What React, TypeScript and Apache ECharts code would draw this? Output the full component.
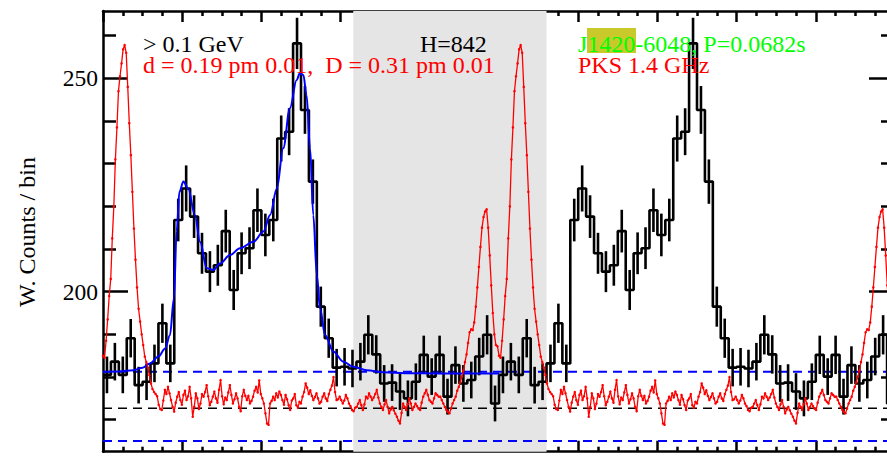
import React, { useEffect, useRef } from 'react';
import * as echarts from 'echarts';

// ---------- data ----------
const binWidth = 0.02; // phase width of a gamma-ray bin (50 bins / rotation)
const histCounts = [
  180.5, 183.6, 180.5, 189.1, 178.1, 178.9, 183.2, 192.6, 183.2, 216.8,
  224.2, 217.6, 209.0, 204.7, 206.2, 214.2, 200.4, 209.0, 210.2, 219.1,
  213.3, 216.8, 235.9, 237.5, 258.2, 242.6, 225.8, 196.5, 189.1, 182.2,
  182.4, 182.0, 183.6, 189.9, 185.3, 178.5, 178.7, 176.6, 175.0, 178.9,
  185.2, 180.1, 185.2, 175.4, 182.8, 178.5, 179.3, 184.8, 189.9, 173.8,
];
const histErrors = [
  4.3, 4.4, 4.3, 4.5, 4.3, 4.3, 4.4, 4.6, 4.4, 5.0,
  5.4, 5.0, 4.8, 4.8, 4.8, 5.0, 4.7, 4.9, 4.9, 5.1,
  5.0, 5.0, 5.4, 5.5, 6.0, 5.6, 5.2, 4.7, 4.6, 4.4,
  4.4, 4.4, 4.4, 4.6, 4.5, 4.3, 4.3, 4.3, 4.2, 4.3,
  4.5, 4.3, 4.5, 4.2, 4.4, 4.3, 4.3, 4.4, 4.6, 4.2,
];

// blue two-peak fit, phase 0..1
const fitPhase = [
  0, 0.04, 0.077, 0.1, 0.119, 0.14, 0.157, 0.169, 0.179, 0.186,
  0.193, 0.203, 0.215, 0.232, 0.245, 0.262, 0.279, 0.295, 0.321, 0.346,
  0.38, 0.405, 0.422, 0.439, 0.455, 0.472, 0.489, 0.497, 0.506, 0.514,
  0.523, 0.531, 0.54, 0.548, 0.561, 0.582, 0.607, 0.632, 0.666, 0.708,
  0.763, 0.85, 1.0,
];
const fitValue = [
  181.2, 181.3, 181.6, 182.2, 183.2, 184.8, 186.7, 189.8, 198.4, 214.1,
  223.4, 225.8, 224.2, 218.0, 211.7, 205.5, 205.1, 206.6, 208.6, 210.2,
  211.7, 214.1, 218.0, 224.2, 233.6, 243.0, 249.6, 251.2, 250.8, 246.1,
  233.6, 218.0, 203.9, 196.1, 189.8, 185.9, 183.6, 182.4, 181.6, 181.1,
  180.9, 180.85, 180.85,
];

// radio profile (PKS 1.4 GHz), 256 bins per rotation, scaled to the count axis
const radioProfile = [
  185.0, 184.5, 188.5, 193.5, 199.0, 203.0, 212.5, 220.0, 231.0, 238.5,
  247.0, 250.5, 253.5, 256.8, 257.8, 256.0, 248.0, 239.5, 232.0, 223.4,
  214.8, 207.5, 201.0, 196.0, 193.0, 190.0, 187.5, 184.8, 183.5, 182.2,
  180.5, 178.5, 177.2, 176.5, 176.0, 175.5, 173.5, 172.5, 172.3, 174.5,
  177.0, 176.0, 177.7, 176.2, 174.6, 173.0, 171.9, 174.0, 175.4, 176.5,
  174.6, 173.5, 175.8, 176.8, 174.6, 175.5, 177.7, 175.0, 170.7, 173.0,
  176.2, 175.0, 172.5, 173.8, 176.0, 175.4, 176.5, 178.1, 175.5, 173.4,
  174.2, 175.4, 176.6, 175.0, 174.0, 177.0, 179.3, 175.5, 173.6, 175.2,
  174.6, 176.4, 178.1, 175.8, 173.8, 174.8, 176.2, 175.0, 173.0, 172.0,
  175.5, 177.0, 175.6, 174.6, 175.6, 173.8, 174.4, 175.4, 176.8, 177.7,
  176.4, 179.2, 176.0, 175.0, 173.8, 171.5, 169.1, 168.8, 173.8, 174.4,
  175.4, 174.6, 176.2, 175.2, 176.6, 175.8, 174.6, 173.5, 175.8, 174.8,
  173.4, 172.3, 174.5, 175.0, 176.0, 173.4, 172.8, 174.2, 173.8, 175.4,
  176.5, 178.5, 177.5, 176.0, 176.9, 175.6, 174.6, 175.3, 176.2, 175.0,
  173.8, 174.2, 175.4, 176.2, 175.0, 174.4, 176.0, 177.0, 178.0, 180.0,
  176.5, 174.6, 174.8, 175.4, 174.6, 173.8, 174.5, 175.8, 175.0, 173.8,
  173.2, 172.3, 172.0, 172.8, 173.0, 173.8, 174.6, 173.4, 172.3, 173.6,
  175.4, 175.0, 176.2, 175.4, 174.6, 175.2, 176.0, 177.0, 175.2, 173.8,
  173.0, 172.3, 173.6, 174.6, 173.0, 171.5, 172.4, 173.0, 172.2, 171.4,
  170.7, 169.8, 169.1, 171.6, 173.8, 173.0, 172.3, 173.6, 175.0, 173.8,
  172.3, 173.0, 173.8, 173.2, 172.6, 172.3, 174.0, 175.4, 176.2, 177.0,
  175.8, 174.6, 174.2, 173.8, 175.0, 176.2, 175.8, 175.4, 175.4, 174.6,
  173.8, 173.0, 172.3, 171.8, 171.5, 172.6, 173.8, 174.6, 175.4, 176.8,
  177.7, 178.8, 180.1, 181.5, 183.5, 185.3, 188.0, 190.5, 191.2, 191.0,
  192.8, 196.5, 201.0, 205.8, 210.5, 215.0, 217.5, 218.8, 219.3, 215.0,
  208.5, 201.5, 195.0, 190.0, 187.5, 187.2,
];

const shadedPhase = [0.632, 1.12];
const upperLevel = 181.25; // blue dashed
const backgroundLevel = 172.7; // black dashed
const lowerLevel = 165.0; // blue dashed

const yTickLabels = [200, 250];

const textEnergy = '> 0.1 GeV';
const textWidths = 'd = 0.19 pm 0.01,  D = 0.31 pm 0.01';
const textH = 'H=842';
const textPulsar = 'J1420-6048, P=0.0682s';
const textRadio = 'PKS 1.4 GHz';
const yTitle = 'W. Counts / bin';

// ---------- layout ----------
const FAMILY = 'Liberation Serif';
const GRID_LEFT = 103;
const GRID_WIDTH = 792;
const FRAME_TOP = 11;
const FRAME_BOTTOM = 451.7;
const Y200 = 291.7;
const PX = 4.2667;
const yMinA = 200 - (FRAME_BOTTOM - Y200) / PX;
const yMaxA = 200 + (Y200 - FRAME_TOP) / PX;

export default function App() {
  const ref = useRef<HTMLDivElement>(null);
  useEffect(() => {
    if (!ref.current) return;
    const chart = echarts.init(ref.current, undefined, { renderer: 'svg' });

    const nb = histCounts.length;
    const hist: number[][] = [];
    const errs: number[][] = [];
    for (let p = 0; p < 2; p++) {
      for (let k = 0; k < nb; k++) {
        const x0 = p + k * binWidth;
        hist.push([x0, histCounts[k]]);
        errs.push([x0 + binWidth / 2, histCounts[k], histErrors[k]]);
      }
    }
    hist.push([2, histCounts[nb - 1]]);

    const nr = radioProfile.length;
    const radio: number[][] = [];
    for (let p = 0; p < 2; p++) {
      for (let i = 0; i < nr; i++) radio.push([p + i / nr, radioProfile[i]]);
    }
    radio.push([2, radioProfile[0]]);

    const fit = fitPhase.map((x, i) => [x, fitValue[i]]);

    const hline = (v: number, color: string, width: number, name: string) => ({
      name,
      type: 'line',
      xAxisIndex: 0,
      yAxisIndex: 0,
      data: [[0, v], [2, v]],
      showSymbol: false,
      lineStyle: { color, width, type: [9, 6] },
      z: 3,
      silent: true,
    });

    const txt = (text: string, x: number, y: number, fill: string) => ({
      type: 'text', x, y, z: 10,
      style: {
        text, fill, fontFamily: FAMILY, fontSize: 24, lineHeight: 19,
        textAlign: 'left', textVerticalAlign: 'middle',
      },
    });

    const option: any = {
      animation: false,
      backgroundColor: '#ffffff',
      textStyle: { fontFamily: FAMILY },
      grid: [
        { left: GRID_LEFT, top: FRAME_TOP, width: GRID_WIDTH, height: FRAME_BOTTOM - FRAME_TOP, containLabel: false, outerBoundsMode: 'none' },
        { left: GRID_LEFT, top: Y200 - 100 * PX, width: GRID_WIDTH, height: 150 * PX, containLabel: false, outerBoundsMode: 'none' },
      ],
      xAxis: [
        {
          gridIndex: 0, type: 'value', min: 0, max: 2, interval: 0.2, position: 'bottom',
          axisLine: { show: true, lineStyle: { color: '#000', width: 2.5 } },
          axisTick: { show: true, inside: true, length: 11, lineStyle: { color: '#000', width: 2.5 } },
          minorTick: { show: true, splitNumber: 4, length: 5, lineStyle: { color: '#000', width: 2.5 } },
          axisLabel: { show: false }, splitLine: { show: false },
        },
        {
          gridIndex: 0, type: 'value', min: 0, max: 2, interval: 0.2, position: 'top',
          axisLine: { show: true, onZero: false, lineStyle: { color: '#000', width: 2.5 } },
          axisTick: { show: true, inside: true, length: 11, lineStyle: { color: '#000', width: 2.5 } },
          minorTick: { show: true, splitNumber: 4, length: 5, lineStyle: { color: '#000', width: 2.5 } },
          axisLabel: { show: false }, splitLine: { show: false },
        },
        { gridIndex: 1, type: 'value', min: 0, max: 2, show: false },
      ],
      yAxis: [
        {
          gridIndex: 0, type: 'value', min: yMinA, max: yMaxA, position: 'left',
          axisLine: { show: true, onZero: false, lineStyle: { color: '#000', width: 2.5 } },
          axisTick: { show: false }, axisLabel: { show: false }, splitLine: { show: false },
        },
        {
          gridIndex: 1, type: 'value', min: 150, max: 300, interval: 50, position: 'left',
          axisLine: { show: false },
          axisTick: { show: true, inside: true, length: 25, lineStyle: { color: '#000', width: 2.5 } },
          minorTick: { show: true, splitNumber: 5, length: 13, lineStyle: { color: '#000', width: 2.5 } },
          axisLabel: {
            show: true, margin: 5, fontFamily: FAMILY, fontSize: 23.5, color: '#000',
            formatter: (v: number) => (yTickLabels.indexOf(v) >= 0 ? '{t|' + String(v) + '}' : ''),
            rich: { t: { fontFamily: FAMILY, fontSize: 23.5, color: '#000' } },
          },
          splitLine: { show: false },
        },
        {
          gridIndex: 1, type: 'value', min: 150, max: 300, interval: 50, position: 'right',
          axisLine: { show: false },
          axisTick: { show: true, inside: true, length: 26, lineStyle: { color: '#000', width: 2.5 } },
          minorTick: { show: true, splitNumber: 5, length: 14, lineStyle: { color: '#000', width: 2.5 } },
          axisLabel: { show: false }, splitLine: { show: false },
        },
      ],
      series: [
        {
          name: 'shade', type: 'line', xAxisIndex: 0, yAxisIndex: 0,
          data: [[shadedPhase[0], yMinA], [shadedPhase[1], yMinA]],
          showSymbol: false, lineStyle: { opacity: 0 }, z: 0, silent: true,
          markArea: {
            silent: true,
            itemStyle: { color: '#e5e5e5' },
            data: [[{ xAxis: shadedPhase[0] }, { xAxis: shadedPhase[1] }]],
          },
        },
        hline(upperLevel, '#0000ff', 2, 'upper'),
        hline(backgroundLevel, '#000000', 1.6, 'background'),
        hline(lowerLevel, '#0000ff', 2, 'lower'),
        {
          name: 'counts', type: 'line', xAxisIndex: 0, yAxisIndex: 0, step: 'end',
          data: hist, showSymbol: false,
          lineStyle: { color: '#000', width: 2.6 }, z: 4, silent: true,
        },
        {
          name: 'errors', type: 'custom', xAxisIndex: 0, yAxisIndex: 0, data: errs, z: 4, silent: true,
          renderItem: (params: any, api: any) => {
            const x = api.value(0), v = api.value(1), e = api.value(2);
            const a = api.coord([x, v - e]);
            const b = api.coord([x, v + e]);
            return {
              type: 'line',
              shape: { x1: a[0], y1: a[1], x2: b[0], y2: b[1] },
              style: { stroke: '#000', lineWidth: 2.6 },
            };
          },
        },
        {
          name: 'fit', type: 'line', xAxisIndex: 0, yAxisIndex: 0, data: fit,
          smooth: 0.35, smoothMonotone: 'x', showSymbol: false,
          lineStyle: { color: '#0000ff', width: 2 }, z: 5, silent: true,
        },
        {
          name: 'radio', type: 'line', xAxisIndex: 0, yAxisIndex: 0, data: radio,
          symbol: 'circle', symbolSize: 2.5, showSymbol: true, showAllSymbol: true,
          itemStyle: { color: '#ff0000' },
          lineStyle: { color: '#ff0000', width: 1.3 }, z: 6, silent: true,
        },
      ],
      graphic: [
        {
          type: 'text', x: 27, y: 232, rotation: Math.PI / 2, z: 10,
          style: {
            text: yTitle, fill: '#000', fontFamily: FAMILY, fontSize: 24,
            textAlign: 'center', textVerticalAlign: 'middle',
          },
        },
        txt(textEnergy, 143, 44, '#000'),
        txt(textWidths, 143, 64.5, '#ff0000'),
        txt(textH, 420, 44, '#000'),
        {
          type: 'rect', z: 9, shape: { x: 587, y: 28, width: 49, height: 25 },
          style: { fill: '#c9c92c' },
        },
        txt(textPulsar, 578, 44, '#00ff00'),
        txt(textRadio, 578, 64.5, '#ff0000'),
      ],
    };
    chart.setOption(option);
    return () => chart.dispose();
  }, []);

  return (
    <div
      ref={ref}
      style={{ position: 'absolute', left: 0, top: 0, width: 887, height: 457, background: '#fff' }}
    />
  );
}
